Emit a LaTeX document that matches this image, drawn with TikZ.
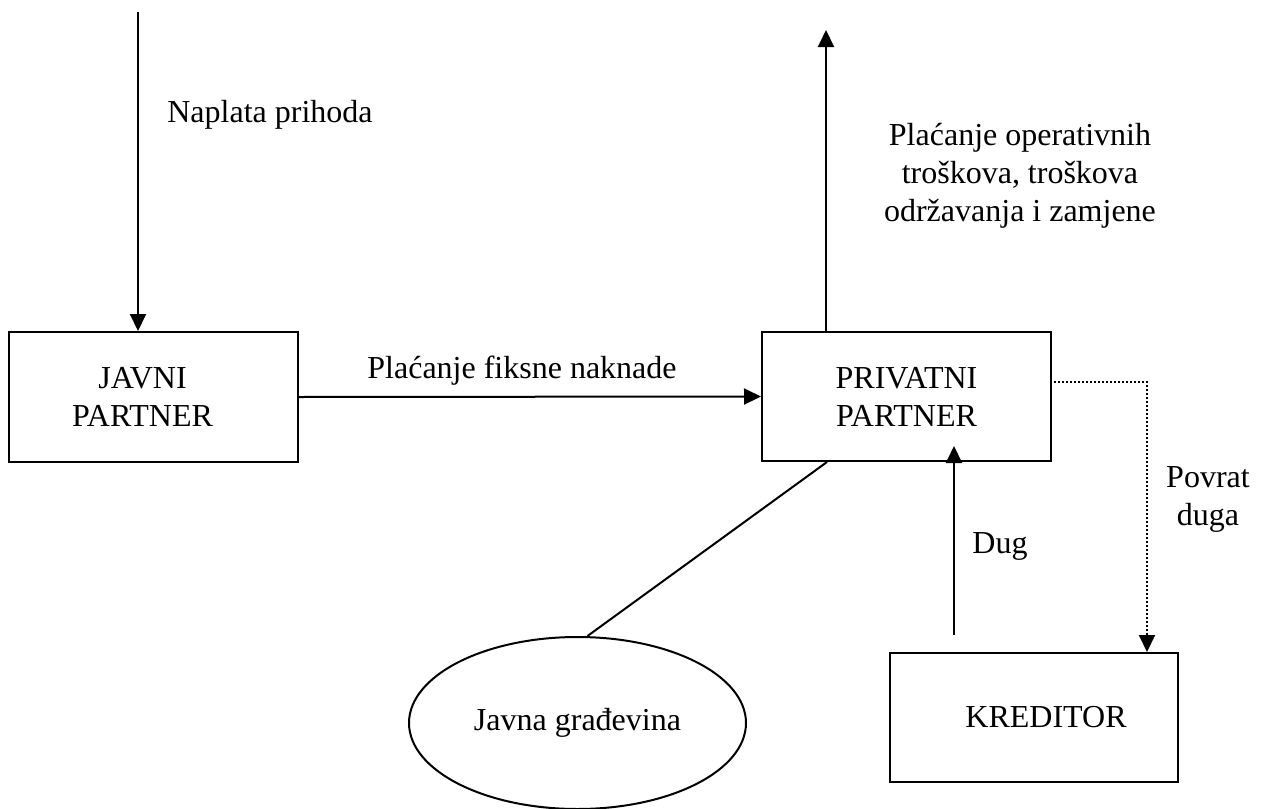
\documentclass[tikz,border=0pt]{standalone}
\usepackage{fontspec}
\setmainfont{Liberation Serif}
\usetikzlibrary{arrows.meta,shapes.geometric,calc}

\begin{document}
\begin{tikzpicture}[x=1pt, y=-1pt, every node/.style={font=\fontsize{32}{38}\selectfont}]
  \tikzstyle{box}=[draw, line width=2pt, rectangle, align=center]
  \tikzstyle{flow}=[line width=2pt, -{Triangle[length=17pt, width=16pt]}]
  \tikzstyle{label}=[align=center]

\useasboundingbox (0,0) rectangle (1262,809);

\node [box, minimum width=289pt, minimum height=130pt] (javni) at (153.5,397) {JAVNI\hspace*{22pt}\\PARTNER\hspace*{22pt}};
\node [box, minimum width=289pt, minimum height=129pt] (privatni) at (906.5,396.5) {PRIVATNI\\PARTNER};
\node [box, minimum width=288pt, minimum height=129pt] (kreditor) at (1034,717.5) {\hspace*{24pt}KREDITOR};
\node [draw, line width=2pt, ellipse, minimum width=337pt, minimum height=172pt] (gradjevina) at (577.5,723) {Javna građevina};

\coordinate (prihod) at (138,12);
\coordinate (troskovi) at (826,30);
\coordinate (dugpoc) at (954,635);

% tokovi novca
\draw[flow] (prihod) -- (prihod |- javni.north);
\draw[flow] (privatni.north -| troskovi) -- (troskovi);
\draw[flow] (javni.east) -- (privatni.west);
\draw[flow] (dugpoc) -- ($(dugpoc |- privatni.south)+(0,-16)$);
\draw[line width=2pt, dotted, -{Triangle[length=17pt, width=16pt]}] ($(privatni.east)+(2,-15)$) -| ($(kreditor.north east)+(-32,0)$);
\draw[line width=2pt] ($(privatni.south west)+(66,0)$) -- ($(gradjevina.north)+(10,0)$);

\node [label] (naplata) at (270,115) {Naplata prihoda};
\node [label] (fiksna) at (522,371) {Plaćanje fiksne naknade};
\node [label] (operativni) at (1020,176) {Plaćanje operativnih\\troškova, troškova\\održavanja i zamjene};
\node [label] (dug) at (1000,546) {Dug};
\node [label] (povrat) at (1208,499) {Povrat\\duga};

\end{tikzpicture}
\end{document}
